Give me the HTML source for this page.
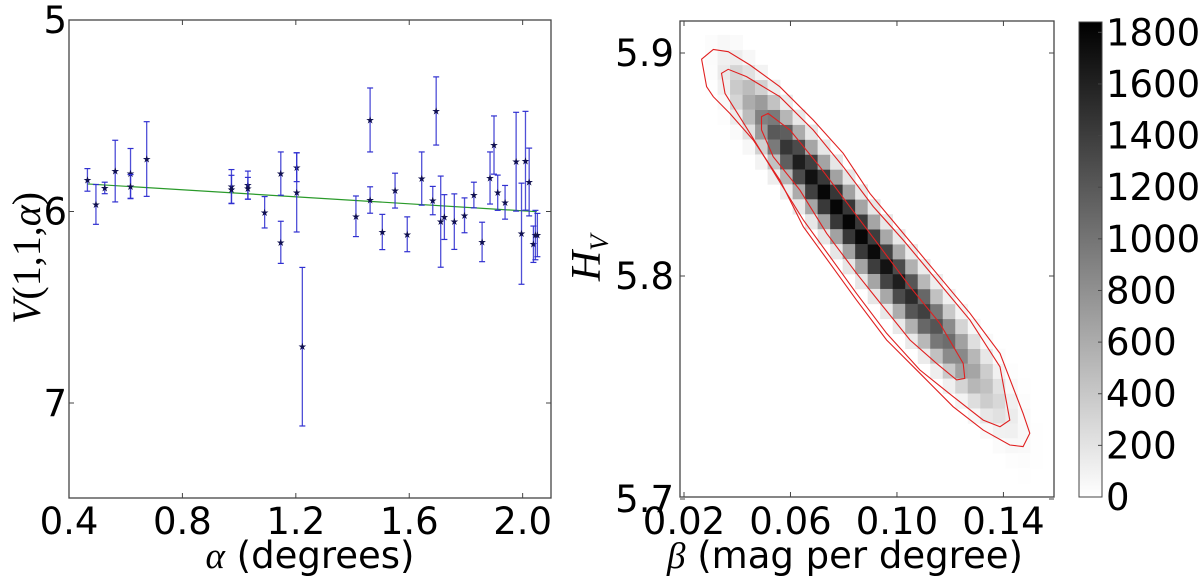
<!DOCTYPE html>
<html><head><meta charset="utf-8"><style>
html,body{margin:0;padding:0;background:#fff;width:1200px;height:579px;overflow:hidden}
svg text{font-family:"DejaVu Sans","Liberation Sans",sans-serif;fill:#000}
</style></head><body>
<svg id="fig" width="1200" height="579" viewBox="0 0 1200 579" xmlns="http://www.w3.org/2000/svg">
<g id="left"></g>
<g id="right"></g>
<g id="cbar"></g>
</svg>
<script>
// ---------- Left panel data ----------
const alphaVals=[.465,.495,.526,.563,.617,.617,.674,.973,.973,1.031,1.031,1.090,1.147,1.147,1.203,1.203,1.223,1.412,1.462,1.462,1.505,1.550,1.593,1.644,1.695,1.683,1.711,1.724,1.759,1.795,1.828,1.857,1.885,1.899,1.912,1.938,1.977,1.996,2.010,2.023,2.038,2.045,2.052];
const magVals=[5.835,5.963,5.877,5.789,5.801,5.870,5.726,5.870,5.884,5.862,5.879,6.004,5.802,6.161,5.769,5.900,6.706,6.025,5.522,5.940,6.107,5.891,6.119,5.828,5.475,5.943,6.053,6.029,6.053,6.020,5.914,6.159,5.825,5.653,5.902,5.952,5.740,6.116,5.735,5.846,6.171,6.123,6.123];
const magErrs=[.059,.104,.030,.161,.130,.063,.195,.089,.073,.073,.057,.082,.113,.110,.075,.207,.414,.106,.167,.069,.092,.091,.091,.139,.178,.074,.238,.117,.145,.091,.067,.103,.136,.152,.092,.088,.258,.264,.258,.177,.095,.129,.113];
const fitAlpha=[0.465,2.05];
const fitMag=[5.856,6.001];
const leftXTicks=[0.4,0.8,1.2,1.6,2.0];
const leftXLabels=["0.4","0.8","1.2","1.6","2.0"];
const leftYTicks=[5,6,7];
const leftYLabels=["5","6","7"];

// ---------- Right panel data ----------
const betaTicks=[0.02,0.06,0.10,0.14];
const betaLabels=["0.02","0.06","0.10","0.14"];
const hTicks=[5.7,5.8,5.9];
const hLabels=["5.7","5.8","5.9"];
const cbTicks=[0,200,400,600,800,1000,1200,1400,1600,1800];
// histogram counts along the diagonal band: column c, row c+k
const histDiag=[0,0,30,150,380,600,900,1200,1450,1620,1720,1790,1800,1800,1790,1760,1700,1620,1520,1380,1230,1050,850,650,450,280,140,50,10,0];
const histOff1=[0,0,20,110,300,480,720,960,1160,1300,1380,1430,1440,1440,1430,1400,1360,1300,1220,1100,980,840,680,520,360,220,110,40,8,0];
const histOff2=[0,0,10,50,130,220,330,440,530,600,640,660,670,670,660,650,630,600,560,510,450,390,310,240,170,100,50,20,0,0];
const histOff3=[0,0,0,15,35,60,90,120,140,160,170,175,180,180,175,170,165,160,150,135,120,105,85,65,45,30,15,5,0,0];
const binBeta0=0.0185, binBetaW=0.0047, binH0=5.9148, binHW=0.0067;
const contourOuterB=[.0266,.0310,.0366,.0448,.0560,.0685,.0798,.0898,.1024,.1149,.1274,.1387,.1474,.1499,.1474,.1424,.1324,.1211,.1086,.0961,.0848,.0748,.0648,.0560,.0460,.0372,.0310,.0285];
const contourOuterH=[5.8972,5.9016,5.9006,5.8946,5.8849,5.8700,5.8550,5.8371,5.8191,5.8012,5.7833,5.7653,5.7384,5.7295,5.7235,5.7242,5.7309,5.7414,5.7564,5.7713,5.7892,5.8057,5.8221,5.8431,5.8610,5.8729,5.8804,5.8849];
const contourMidB=[.0341,.0366,.0435,.0560,.0685,.0798,.0911,.1024,.1149,.1274,.1387,.1424,.1387,.1324,.1211,.1086,.0961,.0848,.0748,.0648,.0548,.0448,.0354];
const contourMidH=[5.8909,5.8927,5.8894,5.8804,5.8655,5.8490,5.8311,5.8161,5.7982,5.7803,5.7593,5.7354,5.7324,5.7354,5.7459,5.7579,5.7743,5.7922,5.8087,5.8251,5.8445,5.8640,5.8819];
const contourInB=[.0491,.0516,.0598,.0710,.0823,.0936,.1049,.1161,.1249,.1255,.1224,.1149,.1049,.0948,.0848,.0736,.0635,.0535,.0491];
const contourInH=[5.8715,5.8729,5.8655,5.8490,5.8311,5.8132,5.7952,5.7788,5.7608,5.7541,5.7534,5.7608,5.7713,5.7863,5.8012,5.8191,5.8386,5.8535,5.8655];

const NS="http://www.w3.org/2000/svg";
function mk(parent,tag,attrs){const e=document.createElementNS(NS,tag);for(const k in attrs)e.setAttribute(k,attrs[k]);parent.appendChild(e);return e;}
const FS=37;

// ---------- Left panel ----------
const L={x0:69,x1:551,y0:20,y1:498};
const lx=a=>L.x0+(a-0.4)/(2.1-0.4)*(L.x1-L.x0);
const ly=v=>L.y0+(v-5)*191.5;
const left=document.getElementById('left');
let fr=mk(left,'rect',{x:L.x0,y:L.y0,width:L.x1-L.x0,height:L.y1-L.y0,fill:'none',stroke:'#444','stroke-width':1.3});


leftXTicks.forEach((t,i)=>{
  const x=lx(t);
  mk(left,'line',{x1:x,x2:x,y1:L.y1,y2:L.y1-5,stroke:'#444'});
  mk(left,'line',{x1:x,x2:x,y1:L.y0,y2:L.y0+5,stroke:'#444'});
  const tx=mk(left,'text',{x:x,y:534,'font-size':FS,'text-anchor':'middle'});tx.textContent=leftXLabels[i];
  
  
});
leftYTicks.forEach((t,i)=>{
  const y=ly(t);
  mk(left,'line',{x1:L.x0,x2:L.x0+5,y1:y,y2:y,stroke:'#444'});
  mk(left,'line',{x1:L.x1,x2:L.x1-5,y1:y,y2:y,stroke:'#444'});
  const tx=mk(left,'text',{x:L.x0-2,y:y+13,'font-size':FS,'text-anchor':'end'});tx.textContent=leftYLabels[i];
  
  
});
let fl=mk(left,'line',{x1:lx(fitAlpha[0]),x2:lx(fitAlpha[1]),y1:ly(fitMag[0]),y2:ly(fitMag[1]),stroke:'#2a9a2a','stroke-width':1.2});


alphaVals.forEach((a,i)=>{
  const x=lx(a),y=ly(magVals[i]),t=ly(magVals[i]-magErrs[i]),b=ly(magVals[i]+magErrs[i]);
  const g=mk(left,'g',{});
  
  
  mk(g,'line',{x1:x,x2:x,y1:t,y2:b,stroke:'#3030d0','stroke-width':1.3,'stroke-opacity':0.85});
  mk(g,'line',{x1:x-3,x2:x+3,y1:t,y2:t,stroke:'#3030d0','stroke-width':1.2});
  mk(g,'line',{x1:x-3,x2:x+3,y1:b,y2:b,stroke:'#3030d0','stroke-width':1.2});
  const s=mk(g,'text',{x:x,y:y+3.5,'font-size':10,'text-anchor':'middle',style:'fill:#101050'});s.textContent='★';
});
let xl=mk(left,'text',{x:310,y:568,'font-size':FS,'text-anchor':'middle'});
xl.innerHTML='<tspan style="font-family:\'Liberation Serif\',serif;font-style:italic">α</tspan> (degrees)';


let yl=mk(left,'text',{x:0,y:0,'font-size':40,'text-anchor':'middle',style:"font-family:'Liberation Serif',serif",transform:'translate(40,258) rotate(-90)'});
yl.innerHTML='<tspan style="font-style:italic">V</tspan>(1,1,<tspan style="font-style:italic">α</tspan>)';



// ---------- Right panel ----------
const R={x0:680,x1:1054,y0:21,y1:497};
const rx=b=>R.x0+(b-0.0185)*2662;
const ry=h=>53+(5.9-h)*2230;
const VMAX=1840;
const gray=v=>{const g=Math.round(255*(1-Math.min(v,VMAX)/VMAX));return `rgb(${g},${g},${g})`;};
const right=document.getElementById('right');
const hm=mk(right,'g',{});


const offsets=[[0,histDiag],[1,histOff1],[-1,histOff1],[2,histOff2],[-2,histOff2],[3,histOff3],[-3,histOff3]];
for(let c=0;c<histDiag.length;c++){
  offsets.forEach(([k,arr])=>{
    const v=arr[c];if(!v)return;
    const r=c+k;
    const bx=binBeta0+c*binBetaW, hy=binH0-r*binHW;
    const x=rx(bx), y=ry(hy), w=rx(bx+binBetaW)-x, h=ry(hy-binHW)-y;
    if(y<R.y0||y+h>R.y1+1)return;
    const cell=mk(hm,'rect',{x:x,y:y,width:w+0.3,height:h+0.3,fill:gray(v)});
    
    
  });
}
[[contourOuterB,contourOuterH,'contour-outer'],[contourMidB,contourMidH,'contour-middle'],[contourInB,contourInH,'contour-inner']].forEach(([B,H,n])=>{
  const pts=B.map((b,i)=>rx(b).toFixed(1)+','+ry(H[i]).toFixed(1)).join(' ');
  const p=mk(right,'polygon',{points:pts,fill:'none',stroke:'#e02020','stroke-width':1.1});
  
  
});
let fr2=mk(right,'rect',{x:R.x0,y:R.y0,width:R.x1-R.x0,height:R.y1-R.y0,fill:'none',stroke:'#444','stroke-width':1.3});


betaTicks.forEach((t,i)=>{
  const x=rx(t);
  mk(right,'line',{x1:x,x2:x,y1:R.y1,y2:R.y1-5,stroke:'#444'});
  mk(right,'line',{x1:x,x2:x,y1:R.y0,y2:R.y0+5,stroke:'#444'});
  const tx=mk(right,'text',{x:x,y:534,'font-size':FS,'text-anchor':'middle'});tx.textContent=betaLabels[i];
  
  
});
hTicks.forEach((t,i)=>{
  const y=ry(t);
  mk(right,'line',{x1:R.x0,x2:R.x0+5,y1:y,y2:y,stroke:'#444'});
  mk(right,'line',{x1:R.x1,x2:R.x1-5,y1:y,y2:y,stroke:'#444'});
  const tx=mk(right,'text',{x:R.x0-6,y:y+13,'font-size':FS,'text-anchor':'end'});tx.textContent=hLabels[i];
  
  
});
let xl2=mk(right,'text',{x:845,y:568,'font-size':FS,'text-anchor':'middle'});
xl2.innerHTML='<tspan style="font-family:\'Liberation Serif\',serif;font-style:italic">β</tspan> (mag per degree)';


let yl2=mk(right,'text',{x:0,y:0,'font-size':42,'text-anchor':'middle',style:"font-family:'Liberation Serif',serif;font-style:italic",transform:'translate(600,258) rotate(-90)'});
yl2.innerHTML='H<tspan font-size="26" dy="8">V</tspan>';



// ---------- Colorbar ----------
const C={x0:1079,x1:1102,y0:22,y1:497};
const cy=v=>C.y1-v/VMAX*(C.y1-C.y0);
const cb=document.getElementById('cbar');
const defs=mk(cb,'defs',{});
const lg=mk(defs,'linearGradient',{id:'cg',x1:0,y1:1,x2:0,y2:0});
mk(lg,'stop',{offset:0,'stop-color':'#fff'});
mk(lg,'stop',{offset:1,'stop-color':'#000'});
let cr=mk(cb,'rect',{x:C.x0,y:C.y0,width:C.x1-C.x0,height:C.y1-C.y0,fill:'url(#cg)',stroke:'#444','stroke-width':1});


cbTicks.forEach(t=>{
  const y=cy(t);
  mk(cb,'line',{x1:C.x1-4,x2:C.x1,y1:y,y2:y,stroke:'#444'});
  const tx=mk(cb,'text',{x:C.x1+4,y:y+13,'font-size':FS});tx.textContent=String(t);
  
  
});
</script>
</body></html>
